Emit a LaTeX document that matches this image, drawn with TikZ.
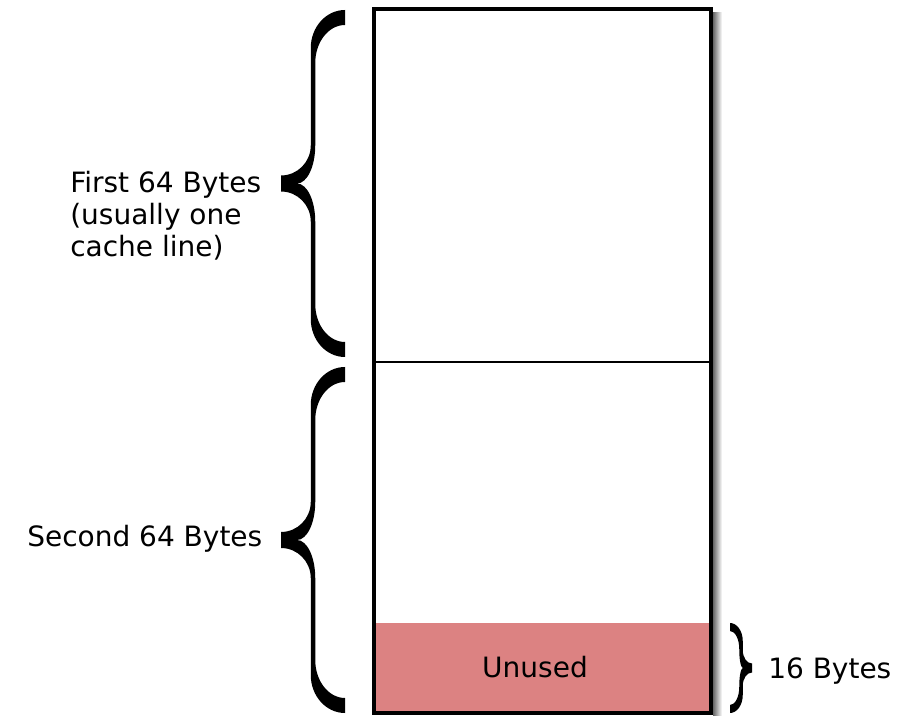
\documentclass[tikz,border=0pt]{standalone}
\usepackage{fontspec}
\setmainfont{DejaVu Sans}
\definecolor{unusedred}{RGB}{220,130,130}

% calligraphic brace pointing left; ends at x=0, from y=0 down to y=#1
% #1 height, #2 amplitude, #3 stem width, #4 end height, #5 tip height, #6 curve radius
\newcommand{\calbrace}[6]{%
	\pgfmathsetmacro\bm{#1/2}
	\pgfmathsetmacro\bo{-#2/2-#3/2}
	\pgfmathsetmacro\bi{-#2/2+#3/2}
	\pgfmathsetmacro\bn{-#2+#5}
	\pgfmathsetmacro\cA{0.552*\bo}
	\pgfmathsetmacro\cB{0.552*\bi}
	\pgfmathsetmacro\cT{-#2+0.552*(\bo+#2)}
	\pgfmathsetmacro\cN{\bn+0.552*(\bi-(\bn))}
	\pgfmathsetmacro\dT{0.552*(#6-#5/2)}
	\fill (0,0) .. controls (\cA,0) and (\bo,0.448*#6) .. (\bo,#6)
		-- (\bo,\bm-#6) .. controls (\bo,\bm-#6+\dT) and (\cT,\bm-#5/2) .. (-#2,\bm-#5/2)
		-- (-#2,\bm+#5/2) .. controls (\cT,\bm+#5/2) and (\bo,\bm+#6-\dT) .. (\bo,\bm+#6)
		-- (\bo,#1-#6) .. controls (\bo,#1-0.448*#6) and (\cA,#1) .. (0,#1)
		-- (0,#1-#4) .. controls (\cB,#1-#4) and (\bi,#1-#4-0.448*#6) .. (\bi,#1-#4-#6)
		-- (\bi,\bm+#6) .. controls (\bi,\bm+0.448*#6) and (\cN,\bm) .. (\bn,\bm)
		.. controls (\cN,\bm) and (\bi,\bm-0.448*#6) .. (\bi,\bm-#6)
		-- (\bi,#4+#6) .. controls (\bi,#4+0.448*#6) and (\cB,#4) .. (0,#4) -- cycle;
}

\begin{document}
\begin{tikzpicture}[x=0.75pt, y=-0.75pt, line join=miter,
		font=\fontsize{21}{24}\selectfont]
		\useasboundingbox (0,0) rectangle (904,716);
		\coordinate (TL) at (374,9);
		\coordinate (BR) at (711,713);
		\coordinate (ML) at (374,362);
		\coordinate (MR) at (711,362);
		\coordinate (UL) at (376,623);
		% shadow on the right side
		\shade[left color=black!60, right color=white] (713,13) rectangle (722,716);
		\fill[unusedred] (UL) rectangle (BR);
		\draw[line width=1.5pt] (ML)--(MR);
		\draw[line width=3pt] (TL) rectangle (BR);
		% braces
		\begin{scope}[shift={(345,10)}] \calbrace{347}{64}{4.5}{15}{16}{38} \end{scope}
		\begin{scope}[shift={(345,367)}] \calbrace{346}{64}{4.5}{15}{16}{38} \end{scope}
		\begin{scope}[shift={(730,623)}, xscale=-1] \calbrace{90}{22}{3.5}{8}{9}{18} \end{scope}
		\node[anchor=north west, align=left, inner sep=0pt] (first) at (70,171) {First 64 Bytes\\(usually one\\cache line)};
		\node[anchor=base west, inner sep=0pt] (second) at (27,547) {Second 64 Bytes};
		\node[anchor=base, inner sep=0pt] (unused) at (535,677) {Unused};
		\node[anchor=base west, inner sep=0pt] (sixteen) at (768,678) {16 Bytes};
	\end{tikzpicture}
\end{document}
